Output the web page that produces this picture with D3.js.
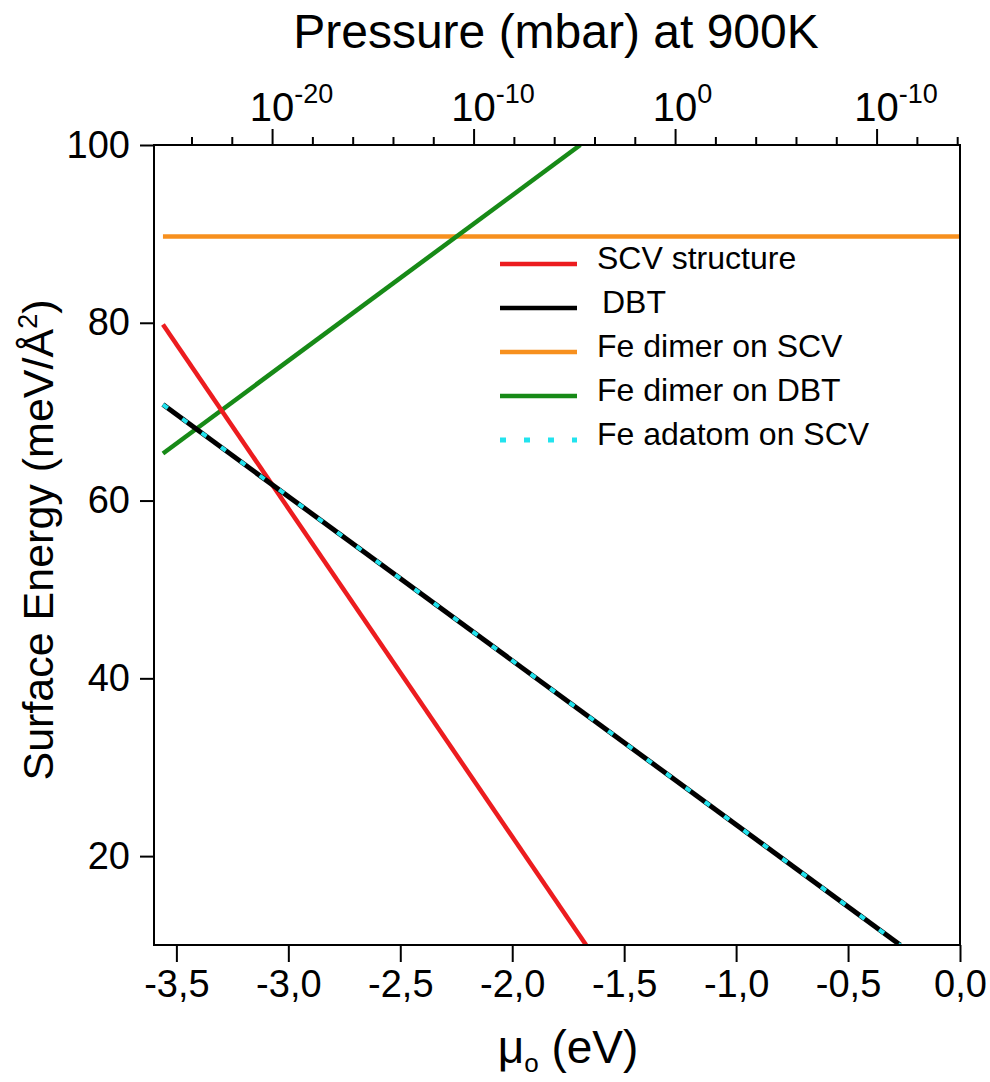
<!DOCTYPE html>
<html>
<head>
<meta charset="utf-8">
<script src="https://cdn.jsdelivr.net/npm/d3@7"></script>
<style>
  html, body { margin: 0; padding: 0; background: #fff; }
  svg { display: block; }
  text { font-family: "Liberation Sans", Arial, sans-serif; fill: #000; }
</style>
</head>
<body>
<svg id="chart" width="990" height="1082"></svg>
<script>
// ---------------- data ----------------
const xDomain = [-3.6, 0];          // mu_O (eV)
const yDomain = [10, 100];          // surface energy (meV/Å^2)
const xTicks = [-3.5, -3.0, -2.5, -2.0, -1.5, -1.0, -0.5, 0.0];
const yTicks = [20, 40, 60, 80, 100];

// top axis: log10 of pressure (mbar) at 900 K
const pressureExpDomain = [-25.86, 14.14];
const pressureTicks = d3.range(-24, 15, 2);
const pressureMajor = [-20, -10, 0, 10];
const pressureLabels = ["-20", "-10", "0", "-10"];

const seriesNames = ["SCV structure", "DBT", "Fe dimer on SCV", "Fe dimer on DBT", "Fe adatom on SCV"];
const seriesColors = ["#ec1c1f", "#000000", "#f7901e", "#178a17", "#22e3ee"];
const scvMu = [-3.56, -1.67],        scvE = [79.8, 10];
const dbtMu = [-3.56, -0.267],       dbtE = [70.8, 10];
const dimerScvMu = [-3.56, 0.0],     dimerScvE = [89.7, 89.7];
const dimerDbtMu = [-3.56, -1.696],  dimerDbtE = [65.3, 100];
const adatomMu = [-3.56, -0.267],    adatomE = [70.8, 10];

// ---------------- layout ----------------
const svg = d3.select("#chart");
const L = 154, R = 960, T = 145, B = 945;

const x = d3.scaleLinear().domain(xDomain).range([L, R]);
const y = d3.scaleLinear().domain(yDomain).range([B, T]);
const xp = d3.scaleLinear().domain(pressureExpDomain).range([L, R]);

const locale = d3.formatLocale({decimal: ",", thousands: ".", grouping: [3], currency: ["", ""], minus: "-"});
const fmt = locale.format(".1f");

svg.append("defs").append("clipPath").attr("id", "plotclip")
  .append("rect").attr("x", L).attr("y", T).attr("width", R - L).attr("height", B - T);

// ---------------- lines ----------------
const toPts = (mu, e) => mu.map((m, i) => [m, e[i]]);
const lineGen = d3.line().x(d => x(d[0])).y(d => y(d[1]));
const seriesData = [
  toPts(scvMu, scvE), toPts(dbtMu, dbtE), toPts(dimerScvMu, dimerScvE),
  toPts(dimerDbtMu, dimerDbtE), toPts(adatomMu, adatomE)
];
const widths = [4.5, 5, 4.5, 4.5, 4];
const dashes = [null, null, null, null, "6,18"];
const drawOrder = [2, 3, 0, 1, 4];
const plot = svg.append("g").attr("clip-path", "url(#plotclip)");
drawOrder.forEach(i => {
  plot.append("path").datum(seriesData[i])
    .attr("d", lineGen).attr("fill", "none")
    .attr("stroke", seriesColors[i]).attr("stroke-width", widths[i])
    .attr("stroke-dasharray", dashes[i]);
});

// ---------------- axes ----------------
const xAxis = d3.axisBottom(x).tickValues(xTicks).tickSize(17).tickPadding(8).tickFormat(fmt);
const gx = svg.append("g").attr("transform", `translate(0,${B})`).call(xAxis);
gx.select(".domain").remove();
gx.selectAll(".tick line").attr("stroke-width", 2);
gx.selectAll(".tick text").attr("font-size", 38).attr("font-family", "Liberation Sans, Arial, sans-serif");

const yAxis = d3.axisLeft(y).tickValues(yTicks).tickSize(14).tickPadding(10);
const gy = svg.append("g").attr("transform", `translate(${L},0)`).call(yAxis);
gy.select(".domain").remove();
gy.selectAll(".tick line").attr("stroke-width", 2);
gy.selectAll(".tick text").attr("font-size", 38).attr("font-family", "Liberation Sans, Arial, sans-serif");

// top pressure axis
const xTop = d3.axisTop(xp).tickValues(pressureTicks).tickFormat("").tickSize(8);
const gt = svg.append("g").attr("transform", `translate(0,${T})`).call(xTop);
gt.select(".domain").remove();
gt.selectAll(".tick line").attr("stroke-width", 2)
  .attr("y2", d => pressureMajor.includes(d) ? -16 : -8);
const baseFont = 40;
pressureMajor.forEach((v, i) => {
  const t = svg.append("text").attr("x", xp(v) - baseFont * 0.556).attr("y", 121)
    .attr("text-anchor", "start").attr("font-size", baseFont);
  t.append("tspan").text("10");
  t.append("tspan").attr("dy", -18).attr("font-size", 27).text(pressureLabels[i]);
});

// frame
svg.append("rect").attr("x", L).attr("y", T).attr("width", R - L).attr("height", B - T)
  .attr("fill", "none").attr("stroke", "#000").attr("stroke-width", 2);

// ---------------- titles ----------------
svg.append("text").attr("x", 556).attr("y", 48).attr("text-anchor", "middle")
  .attr("font-size", 48).text("Pressure (mbar) at 900K");

const xt = svg.append("text").attr("x", 568).attr("y", 1063).attr("text-anchor", "middle").attr("font-size", 46);
xt.append("tspan").text("μ");
xt.append("tspan").attr("dy", 9).attr("font-size", 26).text("o");
xt.append("tspan").attr("dy", -9).text(" (eV)");

const yt = svg.append("text").attr("transform", "translate(53,540) rotate(-90)")
  .attr("text-anchor", "middle").attr("font-size", 43);
yt.append("tspan").text("Surface Energy (meV/Å");
yt.append("tspan").attr("dy", -16).attr("font-size", 27).text("2");
yt.append("tspan").attr("dy", 16).text(")");

// ---------------- legend ----------------
const lg = svg.append("g");
seriesNames.forEach((name, i) => {
  const ly = 264 + i * 44;
  lg.append("line").attr("x1", 500).attr("x2", 577).attr("y1", ly).attr("y2", ly)
    .attr("stroke", seriesColors[i]).attr("stroke-width", i === 4 ? 5 : 4.5)
    .attr("stroke-dasharray", dashes[i]);
  lg.append("text").attr("x", i === 1 ? 602 : 597).attr("y", ly + 5).attr("font-size", 32).text(name);
});
</script>
</body>
</html>
